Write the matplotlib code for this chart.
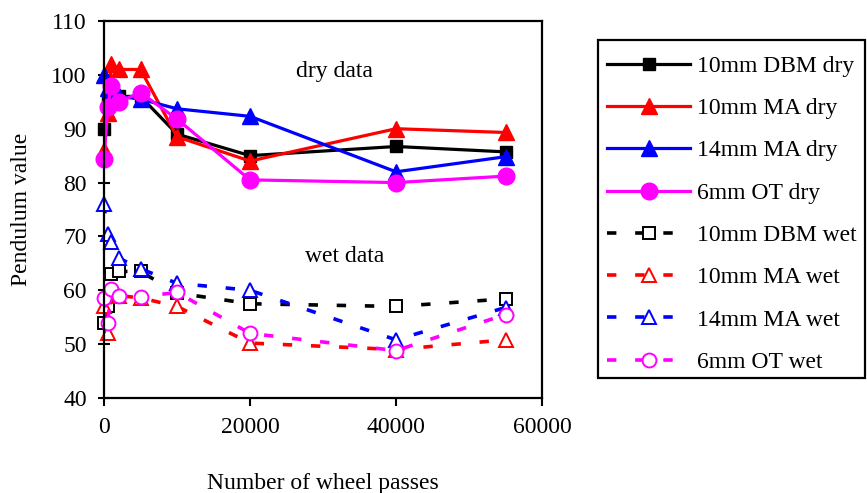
import matplotlib
matplotlib.use("Agg")
import matplotlib.pyplot as plt
from matplotlib.patches import Rectangle

plt.rcParams['font.family'] = ['Liberation Serif', 'DejaVu Serif']

# wheel passes at which pendulum readings were taken
passes = [0, 500, 1000, 2000, 5000, 10000, 20000, 40000, 55000]

# dry readings
dbm10_dry = [90, 95, 97, 96, 96, 89, 85, 86.7, 85.7]
ma10_dry = [86, 93, 102, 101, 101, 88.5, 84, 90, 89.3]
ma14_dry = [100, 97.5, 96.5, 96, 95.5, 93.7, 92.3, 82, 84.8]
ot6_dry = [84.3, 94, 98, 95, 96.7, 91.8, 80.5, 80, 81.2]

# wet readings
dbm10_wet = [54, 57, 63, 63.5, 63.5, 59.5, 57.5, 57, 58.4]
ma10_wet = [57, 52, 60, 59, 58.6, 57, 50.2, 49, 50.8]
ma14_wet = [76, 70.5, 69, 66, 64, 61.3, 60, 50.8, 56.8]
ot6_wet = [58.5, 54, 60.3, 59, 58.8, 59.6, 52, 48.8, 55.5]

labels = ['10mm DBM dry', '10mm MA dry', '14mm MA dry', '6mm OT dry',
          '10mm DBM wet', '10mm MA wet', '14mm MA wet', '6mm OT wet']

fs = 17

fig = plt.figure(figsize=(8.67, 4.93), dpi=100)
ax = fig.add_axes([104 / 867, 1 - 398 / 493, 438 / 867, 377 / 493])

lw = 2.3
ax.plot(passes, dbm10_dry, color='black', lw=lw, marker='s', ms=9, label=labels[0], clip_on=False)
ax.plot(passes, ma10_dry, color='red', lw=lw, marker='^', ms=12, label=labels[1], clip_on=False)
ax.plot(passes, ma14_dry, color='blue', lw=lw, marker='^', ms=12, label=labels[2], clip_on=False)
ax.plot(passes, ot6_dry, color='magenta', lw=lw, marker='o', ms=12, label=labels[3], clip_on=False)

dash = (0, (2.6, 5.2))
wet_kw = dict(lw=2.6, ls=dash, mfc='white', mew=1.4, clip_on=False)
ax.plot(passes, dbm10_wet, color='black', marker='s', ms=9, label=labels[4], **wet_kw)
ax.plot(passes, ma10_wet, color='red', marker='^', ms=10, label=labels[5], **wet_kw)
ax.plot(passes, ma14_wet, color='blue', marker='^', ms=10, label=labels[6], **wet_kw)
ax.plot(passes, ot6_wet, color='magenta', marker='o', ms=10, label=labels[7], **wet_kw)

ax.set_xlim(0, 60000)
ax.set_ylim(40, 110)
ax.set_xticks([0, 20000, 40000, 60000])
ax.set_yticks(range(40, 111, 10))
ax.tick_params(axis='x', direction='out', length=6, width=1.5, pad=8, labelsize=fs)
ax.tick_params(axis='y', direction='inout', length=9, width=1.5, pad=8, labelsize=fs)
for s in ax.spines.values():
    s.set_linewidth(1.6)

ax.set_xlabel('Number of wheel passes', fontsize=fs, labelpad=25)
ax.set_ylabel('Pendulum value', fontsize=fs, labelpad=14)

ax.text(31500, 100.7, 'dry data', fontsize=fs, ha='center', va='center')
ax.text(33000, 66.3, 'wet data', fontsize=fs, ha='center', va='center')

# legend without its own frame; box drawn separately so it hugs the entries
fig.legend(loc='upper left', bbox_to_anchor=(592 / 867, 1 - 40 / 493),
           fontsize=fs, handlelength=3.5, handletextpad=0.3,
           labelspacing=0.88, borderpad=0.65, borderaxespad=0,
           frameon=False)
fig.patches.append(Rectangle((598 / 867, 1 - 378 / 493), 267 / 867, 338 / 493,
                             transform=fig.transFigure, fill=False,
                             ec='black', lw=1.6))

fig.savefig('out.png', dpi=100)
